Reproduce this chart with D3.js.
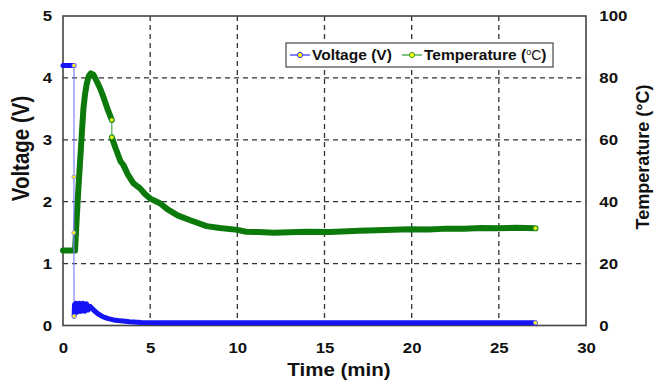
<!DOCTYPE html>
<html>
<head>
<meta charset="utf-8">
<script src="https://cdn.jsdelivr.net/npm/d3@7"></script>
<style>
  body { margin: 0; background: #fff; }
  text { font-family: Arial, "Liberation Sans", sans-serif; font-weight: bold; fill: #111; }
</style>
</head>
<body>
<div id="chart-area"></div>
<script>
// ticks
const timeTicks = [0, 5, 10, 15, 20, 25, 30]
const voltageTicks = [0, 1, 2, 3, 4, 5]
const tempTicks = [0, 20, 40, 60, 80, 100]

// voltage (V) vs time (min)
const voltageTime = [0, 0.63, 0.63, 0.62, 0.64, 0.66, 0.7, 0.75, 0.85, 0.95, 1.05, 1.15, 1.25, 1.35, 1.45, 1.55,
  1.75, 2.0, 2.3, 2.6, 2.9, 3.3, 3.8, 4.5, 6, 10, 15, 20, 25, 27.1]
const voltageValue = [4.2, 4.2, 2.4, 1.5, 0.15, 0.34, 0.2, 0.36, 0.22, 0.36, 0.23, 0.36, 0.23, 0.35, 0.25, 0.31,
  0.25, 0.19, 0.14, 0.11, 0.09, 0.075, 0.06, 0.05, 0.045, 0.045, 0.045, 0.045, 0.045, 0.045]
const voltageThinFrom = [1, 2, 3]   // sparse sampled steps (thin line)

// temperature (°C) vs time (min)
const tempTime = [0, 0.69, 0.78, 0.88, 0.98, 1.08, 1.17, 1.27, 1.36, 1.47, 1.6, 1.75, 1.93, 2.1, 2.31, 2.55, 2.8,
  2.8, 3.0, 3.17, 3.3, 3.46, 3.7, 4.03, 4.42, 4.7, 5.0, 5.56, 6.0, 6.6, 7.3, 8.24, 9.0, 10, 10.5, 11.2, 12.1,
  13, 14, 15.3, 16, 17, 18, 19.9, 21, 22, 23, 24, 24.9, 26, 27.1]
const tempValue = [24.2, 24.2, 34, 44, 53, 62, 70, 75, 78, 80.5, 81.5, 81, 79, 77, 74, 70, 66.4,
  60.8, 57.5, 55, 53, 51.9, 49, 46, 44.3, 42.5, 41, 39.5, 37.5, 35.5, 34, 32.1, 31.5, 30.9, 30.3, 30.2, 30,
  30.1, 30.3, 30.2, 30.4, 30.6, 30.8, 31.1, 31.0, 31.3, 31.3, 31.5, 31.4, 31.6, 31.4]
const tempThinFrom = [16]

const W = 656, H = 386
const PLOT = { LEFT: 63, RIGHT: 586, TOP: 16, BOTTOM: 325.5 }
const STRETCH = 1.16   // the source text is a bit wide

const svg = d3.select("#chart-area").append("svg")
  .attr("width", W)
  .attr("height", H)

const x = d3.scaleLinear().domain([0, 30]).range([PLOT.LEFT, PLOT.RIGHT])
const yV = d3.scaleLinear().domain([0, 5]).range([PLOT.BOTTOM, PLOT.TOP])
const yT = d3.scaleLinear().domain([0, 100]).range([PLOT.BOTTOM, PLOT.TOP])

// grid
const grid = svg.append("g")
  .attr("stroke", "#333")
  .attr("stroke-width", 1.3)
  .attr("stroke-dasharray", "5,4")
grid.selectAll(".vg").data(timeTicks.slice(1, -1)).enter().append("line")
  .attr("x1", d => x(d)).attr("x2", d => x(d))
  .attr("y1", PLOT.TOP).attr("y2", PLOT.BOTTOM)
grid.selectAll(".hg").data(voltageTicks.slice(1, -1)).enter().append("line")
  .attr("x1", PLOT.LEFT).attr("x2", PLOT.RIGHT)
  .attr("y1", d => yV(d)).attr("y2", d => yV(d))

// frame
svg.append("rect")
  .attr("x", PLOT.LEFT).attr("y", PLOT.TOP)
  .attr("width", PLOT.RIGHT - PLOT.LEFT).attr("height", PLOT.BOTTOM - PLOT.TOP)
  .attr("fill", "none").attr("stroke", "#444").attr("stroke-width", 1.6)

// axes (labels only)
const xAxis = svg.append("g")
  .attr("transform", `translate(0, ${PLOT.BOTTOM})`)
  .call(d3.axisBottom(x).tickValues(timeTicks).tickSize(0).tickPadding(17))
const yAxisL = svg.append("g")
  .attr("transform", `translate(${PLOT.LEFT}, 0)`)
  .call(d3.axisLeft(yV).tickValues(voltageTicks).tickFormat(d3.format("d")).tickSize(0).tickPadding(9.5))
const yAxisR = svg.append("g")
  .attr("transform", `translate(${PLOT.RIGHT}, 0)`)
  .call(d3.axisRight(yT).tickValues(tempTicks).tickSize(0).tickPadding(11.5))
;[xAxis, yAxisL, yAxisR].forEach(a => {
  a.select(".domain").remove()
  a.selectAll("text").attr("font-size", "14.5px").attr("font-family", "Arial, 'Liberation Sans', sans-serif")
    .attr("font-weight", "bold").attr("fill", "#111")
    .attr("transform", `scale(${STRETCH},1)`)
})

// axis titles
svg.append("text")
  .attr("transform", `translate(339, 376) scale(${STRETCH},1)`)
  .attr("text-anchor", "middle")
  .attr("font-size", "17.7px")
  .text("Time (min)")
svg.append("text")
  .attr("transform", `translate(29, 148.5) rotate(-90) scale(1,${STRETCH})`)
  .attr("text-anchor", "middle")
  .attr("font-size", "20.5px")
  .text("Voltage (V)")
svg.append("text")
  .attr("transform", `translate(649, 157) rotate(-90)`)
  .attr("text-anchor", "middle")
  .attr("font-size", "18px")
  .text("Temperature (°C)")

// series drawing
function drawSeries(ts, vs, yScale, thinFrom, thick, thin, width) {
  const pts = ts.map((t, i) => [x(t), yScale(vs[i])])
  const line = d3.line()
  // thin line through every point
  svg.append("path")
    .attr("d", line(pts))
    .attr("fill", "none").attr("stroke", thin).attr("stroke-width", 1.2)
  // thick dense segments
  let start = 0
  const segs = []
  thinFrom.forEach(k => { segs.push(pts.slice(start, k + 1)); start = k + 1 })
  segs.push(pts.slice(start))
  segs.filter(s => s.length > 1).forEach(s => {
    svg.append("path")
      .attr("d", line(s))
      .attr("fill", "none").attr("stroke", thick)
      .attr("stroke-width", width)
      .attr("stroke-linejoin", "round").attr("stroke-linecap", "round")
  })
  // sparse markers
  const idx = new Set()
  thinFrom.forEach(k => { idx.add(k); idx.add(k + 1) })
  idx.add(pts.length - 1)
  svg.selectAll(null).data([...idx]).enter().append("circle")
    .attr("cx", i => pts[i][0]).attr("cy", i => pts[i][1])
    .attr("r", 2)
    .attr("fill", "#ffff00").attr("stroke", thin).attr("stroke-width", 0.8)
}

drawSeries(tempTime, tempValue, yT, tempThinFrom, "#0b7a0b", "#4caf4c", 6)
drawSeries(voltageTime, voltageValue, yV, voltageThinFrom, "#1414f5", "#8080ff", 5)

// legend
const lg = svg.append("g")
lg.append("rect")
  .attr("x", 286).attr("y", 43).attr("width", 267).attr("height", 24)
  .attr("fill", "#fff").attr("stroke", "#555").attr("stroke-width", 1.3)
const legendItems = [
  { x: 290, color: "#3030ff" },
  { x: 402, color: "#2e9e2e" }
]
legendItems.forEach(d => {
  lg.append("line")
    .attr("x1", d.x).attr("x2", d.x + 20).attr("y1", 55).attr("y2", 55)
    .attr("stroke", d.color).attr("stroke-width", 1.2)
  lg.append("circle")
    .attr("cx", d.x + 10).attr("cy", 55).attr("r", 2.6)
    .attr("fill", "#ffff00").attr("stroke", d.color).attr("stroke-width", 1)
})
lg.append("text")
  .attr("x", 312).attr("y", 60)
  .attr("font-size", "15.5px")
  .text("Voltage (V)")
const tl = lg.append("text")
  .attr("x", 424).attr("y", 60)
  .attr("font-size", "15.5px")
tl.append("tspan").text("Temperature (")
tl.append("tspan").attr("font-size", "9px").attr("font-weight", "normal").attr("dy", -5).text("o")
tl.append("tspan").attr("font-size", "14px").attr("font-weight", "normal").attr("dy", 5).text("C")
tl.append("tspan").text(")")
</script>
</body>
</html>
